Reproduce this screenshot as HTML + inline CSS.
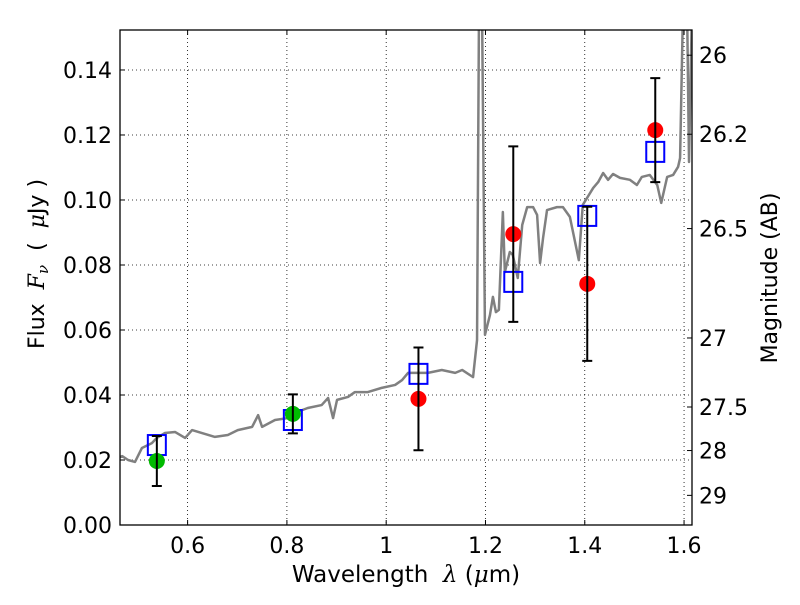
<!DOCTYPE html>
<html><head><meta charset="utf-8"><style>
html,body{margin:0;padding:0;background:#fff;}
svg text{font-family:"DejaVu Sans","Liberation Sans",sans-serif;fill:#000;white-space:pre;}
.m{font-family:"DejaVu Serif","Liberation Serif",serif;font-style:italic;}
</style></head><body>
<svg id="chart" width="800" height="600" xmlns="http://www.w3.org/2000/svg">
<rect width="800" height="600" fill="#fff"/>
<g id="grid"></g>
<g id="plot"></g>
<g id="axes"></g>
</svg>
<script>
const specWave = [0.464,0.468,0.480,0.494,0.508,0.528,0.538,0.554,0.575,0.595,0.609,0.629,0.655,0.681,0.701,0.730,0.742,0.750,0.776,0.802,0.816,0.842,0.870,0.883,0.893,0.901,0.923,0.937,0.963,0.991,1.018,1.032,1.044,1.058,1.084,1.112,1.139,1.153,1.175,1.183,1.187,1.193,1.199,1.209,1.215,1.221,1.227,1.235,1.239,1.249,1.255,1.265,1.274,1.284,1.296,1.304,1.310,1.316,1.324,1.344,1.356,1.370,1.388,1.396,1.417,1.427,1.437,1.447,1.457,1.471,1.491,1.505,1.515,1.531,1.546,1.554,1.566,1.578,1.588,1.592,1.598,1.606,1.610,1.616];
const specFlux = [0.0209,0.0212,0.0200,0.0194,0.0237,0.0252,0.0268,0.0283,0.0286,0.0268,0.0292,0.0283,0.0271,0.0277,0.0292,0.0302,0.0338,0.0302,0.0323,0.0329,0.0345,0.0360,0.0369,0.0391,0.0329,0.0385,0.0394,0.0409,0.0409,0.0422,0.0431,0.0446,0.0468,0.0468,0.0468,0.0477,0.0468,0.0477,0.0455,0.0569,0.16,0.16,0.0585,0.0646,0.0702,0.0655,0.0662,0.0963,0.0778,0.0840,0.0831,0.0760,0.0923,0.0978,0.0978,0.0954,0.0806,0.0883,0.0969,0.0978,0.0978,0.0948,0.0815,0.0985,0.1037,0.1055,0.1083,0.1062,0.1080,0.1068,0.1062,0.1046,0.1071,0.1077,0.1046,0.0991,0.1071,0.1077,0.1102,0.1129,0.16,0.16,0.1117,0.16];
const obsWave = [0.538,0.812,1.065,1.256,1.405,1.542];
const obsFlux = [0.0197,0.0342,0.0388,0.0895,0.0742,0.1215];
const obsErr = [0.0077,0.0060,0.0158,0.0270,0.0237,0.0160];
const obsColor = ["#00bb00","#00bb00","red","red","red","red"];
const modelFlux = [0.0246,0.0323,0.0465,0.0748,0.0951,0.1148];
const xTicks = [0.6,0.8,1.0,1.2,1.4,1.6];
const xTickLabels = ["0.6","0.8","1","1.2","1.4","1.6"];
const yTicks = [0,0.02,0.04,0.06,0.08,0.10,0.12,0.14];
const yTickLabels = ["0.00","0.02","0.04","0.06","0.08","0.10","0.12","0.14"];
const magTicks = [26,26.2,26.5,27,27.5,28,29];
const magTickLabels = ["26","26.2","26.5","27","27.5","28","29"];

const L=120,R=692,T=30,B=525, xmin=0.4638,xmax=1.616, ymin=0,ymax=0.1523;
const sx=v=>L+(v-xmin)/(xmax-xmin)*(R-L);
const sy=v=>B-(v-ymin)/(ymax-ymin)*(B-T);
const NS="http://www.w3.org/2000/svg";
function mk(tag,attrs,parent){const e=document.createElementNS(NS,tag);for(const k in attrs)e.setAttribute(k,attrs[k]);parent.appendChild(e);return e;}
const grid=document.getElementById('grid'),plot=document.getElementById('plot'),axes=document.getElementById('axes');

mk('clipPath',{id:'clip'},document.getElementById('chart'));
mk('rect',{x:L,y:T,width:R-L,height:B-T},document.getElementById('clip'));
plot.setAttribute('clip-path','url(#clip)');

xTicks.forEach((t,i)=>{
  const x=sx(t);
  const g=mk('line',{x1:x,x2:x,y1:T,y2:B,stroke:'#000','stroke-width':0.8,'stroke-dasharray':'1,3'},grid);
  
  
  mk('line',{x1:x,x2:x,y1:B,y2:B-5,stroke:'#000'},axes);
  mk('line',{x1:x,x2:x,y1:T,y2:T+5,stroke:'#000'},axes);
  const tx=mk('text',{x:x,y:B+28,'font-size':22,'text-anchor':'middle'},axes);
  tx.textContent=xTickLabels[i];
  
  
});
yTicks.forEach((t,i)=>{
  const y=sy(t);
  const g=mk('line',{x1:L,x2:R,y1:y,y2:y,stroke:'#000','stroke-width':0.8,'stroke-dasharray':'1,3'},grid);
  
  
  mk('line',{x1:L,x2:L+5,y1:y,y2:y,stroke:'#000'},axes);
  const tx=mk('text',{x:L-8,y:y+8,'font-size':22,'text-anchor':'end'},axes);
  tx.textContent=yTickLabels[i];
  
  
});
magTicks.forEach((m,i)=>{
  const f=Math.pow(10,(23.9-m)/2.5);
  const y=sy(f);
  mk('line',{x1:R,x2:R-5,y1:y,y2:y,stroke:'#000'},axes);
  const tx=mk('text',{x:R+7,y:y+8,'font-size':22},axes);
  tx.textContent=magTickLabels[i];
  
  
});

const sp=mk('polyline',{points:specWave.map((w,i)=>sx(w)+','+sy(specFlux[i])).join(' '),fill:'none',stroke:'#808080','stroke-width':2.5,'stroke-linejoin':'round'},plot);



obsWave.forEach((w,i)=>{
  const r=mk('rect',{x:sx(w)-9,y:sy(modelFlux[i])-10,width:18,height:20,fill:'none',stroke:'#0000ff','stroke-width':2},plot);
  
  
});
obsWave.forEach((w,i)=>{
  const x=sx(w),y1=sy(obsFlux[i]+obsErr[i]),y2=sy(obsFlux[i]-obsErr[i]);
  const c=mk('circle',{cx:x,cy:sy(obsFlux[i]),r:8,fill:obsColor[i]},plot);
  
  
  const e=mk('path',{d:`M${x},${y1}V${y2}M${x-5},${y1}H${x+5}M${x-5},${y2}H${x+5}`,stroke:'#000','stroke-width':2,fill:'none'},plot);
  
  
});

const frame=mk('rect',{x:L,y:T,width:R-L,height:B-T,fill:'none',stroke:'#000','stroke-width':1.3},axes);



const xl=mk('text',{x:406,y:582,'font-size':23,'text-anchor':'middle'},axes);
xl.innerHTML='Wavelength  <tspan class="m">λ</tspan> (<tspan class="m">μ</tspan>m)';


const yl=mk('text',{transform:'translate(44,264) rotate(-90)','font-size':22,'text-anchor':'middle'},axes);
yl.innerHTML='Flux  <tspan class="m">F</tspan><tspan class="m" font-size="15" dy="4">ν</tspan><tspan dy="-4">  (  </tspan><tspan class="m">μ</tspan>Jy )';


const ml=mk('text',{transform:'translate(777,278) rotate(-90)','font-size':22,'text-anchor':'middle'},axes);
ml.textContent='Magnitude (AB)';


</script>
</body></html>
